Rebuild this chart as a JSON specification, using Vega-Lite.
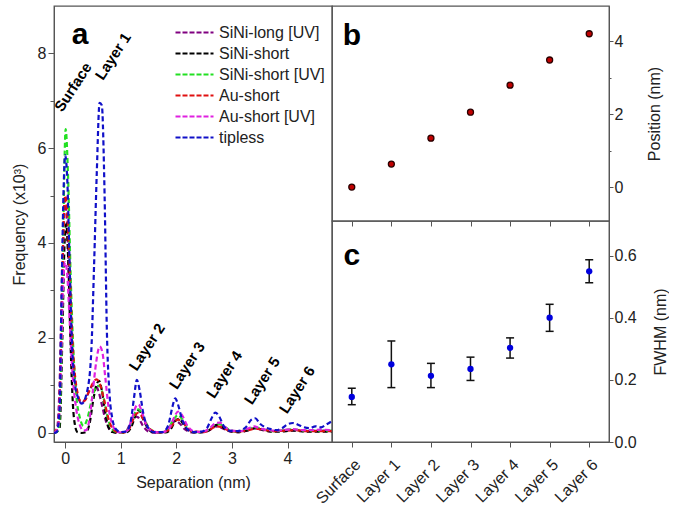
{
  "$schema": "https://vega.github.io/schema/vega-lite/v6.json",
  "padding": {"left": 10, "top": 5, "right": 0, "bottom": 5},
  "datasets": {
    "curves": [
      {"s":"SiNi-long [UV]","x":-0.2,"y":0},{"s":"SiNi-long [UV]","x":-0.15,"y":0.05},{"s":"SiNi-long [UV]","x":-0.1,"y":1.0},{"s":"SiNi-long [UV]","x":-0.05,"y":3.5},{"s":"SiNi-long [UV]","x":-0.01,"y":4.9},{"s":"SiNi-long [UV]","x":0.03,"y":4.5},{"s":"SiNi-long [UV]","x":0.07,"y":3.3},{"s":"SiNi-long [UV]","x":0.12,"y":2.0},{"s":"SiNi-long [UV]","x":0.18,"y":1.1},{"s":"SiNi-long [UV]","x":0.24,"y":0.72},{"s":"SiNi-long [UV]","x":0.3,"y":0.64},{"s":"SiNi-long [UV]","x":0.37,"y":0.72},{"s":"SiNi-long [UV]","x":0.44,"y":0.9},{"s":"SiNi-long [UV]","x":0.5,"y":1.0},{"s":"SiNi-long [UV]","x":0.55,"y":1.0},{"s":"SiNi-long [UV]","x":0.6,"y":0.88},{"s":"SiNi-long [UV]","x":0.66,"y":0.6},{"s":"SiNi-long [UV]","x":0.72,"y":0.3},{"s":"SiNi-long [UV]","x":0.8,"y":0.08},{"s":"SiNi-long [UV]","x":0.9,"y":0.01},{"s":"SiNi-long [UV]","x":1.0,"y":0},{"s":"SiNi-long [UV]","x":1.1,"y":0.04},{"s":"SiNi-long [UV]","x":1.17,"y":0.2},{"s":"SiNi-long [UV]","x":1.25,"y":0.35},{"s":"SiNi-long [UV]","x":1.31,"y":0.33},{"s":"SiNi-long [UV]","x":1.4,"y":0.15},{"s":"SiNi-long [UV]","x":1.5,"y":0.03},{"s":"SiNi-long [UV]","x":1.65,"y":0},{"s":"SiNi-long [UV]","x":1.8,"y":0.03},{"s":"SiNi-long [UV]","x":1.9,"y":0.15},{"s":"SiNi-long [UV]","x":1.98,"y":0.25},{"s":"SiNi-long [UV]","x":2.06,"y":0.2},{"s":"SiNi-long [UV]","x":2.15,"y":0.08},{"s":"SiNi-long [UV]","x":2.3,"y":0.01},{"s":"SiNi-long [UV]","x":2.5,"y":0.02},{"s":"SiNi-long [UV]","x":2.62,"y":0.07},{"s":"SiNi-long [UV]","x":2.7,"y":0.14},{"s":"SiNi-long [UV]","x":2.8,"y":0.11},{"s":"SiNi-long [UV]","x":2.95,"y":0.04},{"s":"SiNi-long [UV]","x":3.1,"y":0.02},{"s":"SiNi-long [UV]","x":3.3,"y":0.06},{"s":"SiNi-long [UV]","x":3.4,"y":0.1},{"s":"SiNi-long [UV]","x":3.55,"y":0.06},{"s":"SiNi-long [UV]","x":3.7,"y":0.04},{"s":"SiNi-long [UV]","x":3.9,"y":0.05},{"s":"SiNi-long [UV]","x":4.05,"y":0.06},{"s":"SiNi-long [UV]","x":4.2,"y":0.05},{"s":"SiNi-long [UV]","x":4.4,"y":0.04},{"s":"SiNi-long [UV]","x":4.6,"y":0.05},{"s":"SiNi-long [UV]","x":4.8,"y":0.05},
      {"s":"SiNi-short","x":-0.2,"y":0},{"s":"SiNi-short","x":-0.1,"y":0.1},{"s":"SiNi-short","x":-0.05,"y":2.0},{"s":"SiNi-short","x":-0.01,"y":4.0},{"s":"SiNi-short","x":0.02,"y":4.4},{"s":"SiNi-short","x":0.06,"y":3.5},{"s":"SiNi-short","x":0.1,"y":1.8},{"s":"SiNi-short","x":0.14,"y":0.6},{"s":"SiNi-short","x":0.18,"y":0.15},{"s":"SiNi-short","x":0.22,"y":0.02},{"s":"SiNi-short","x":0.3,"y":0},{"s":"SiNi-short","x":0.38,"y":0.02},{"s":"SiNi-short","x":0.44,"y":0.2},{"s":"SiNi-short","x":0.5,"y":0.65},{"s":"SiNi-short","x":0.56,"y":1.0},{"s":"SiNi-short","x":0.61,"y":1.1},{"s":"SiNi-short","x":0.66,"y":0.9},{"s":"SiNi-short","x":0.72,"y":0.45},{"s":"SiNi-short","x":0.78,"y":0.12},{"s":"SiNi-short","x":0.85,"y":0.02},{"s":"SiNi-short","x":1.0,"y":0},{"s":"SiNi-short","x":1.12,"y":0.02},{"s":"SiNi-short","x":1.2,"y":0.15},{"s":"SiNi-short","x":1.28,"y":0.42},{"s":"SiNi-short","x":1.33,"y":0.48},{"s":"SiNi-short","x":1.4,"y":0.3},{"s":"SiNi-short","x":1.5,"y":0.08},{"s":"SiNi-short","x":1.6,"y":0.01},{"s":"SiNi-short","x":1.8,"y":0.01},{"s":"SiNi-short","x":1.9,"y":0.08},{"s":"SiNi-short","x":1.98,"y":0.25},{"s":"SiNi-short","x":2.05,"y":0.3},{"s":"SiNi-short","x":2.12,"y":0.2},{"s":"SiNi-short","x":2.22,"y":0.05},{"s":"SiNi-short","x":2.35,"y":0.01},{"s":"SiNi-short","x":2.5,"y":0.02},{"s":"SiNi-short","x":2.62,"y":0.08},{"s":"SiNi-short","x":2.72,"y":0.17},{"s":"SiNi-short","x":2.8,"y":0.15},{"s":"SiNi-short","x":2.92,"y":0.05},{"s":"SiNi-short","x":3.1,"y":0.02},{"s":"SiNi-short","x":3.3,"y":0.06},{"s":"SiNi-short","x":3.42,"y":0.1},{"s":"SiNi-short","x":3.52,"y":0.08},{"s":"SiNi-short","x":3.7,"y":0.03},{"s":"SiNi-short","x":3.9,"y":0.03},{"s":"SiNi-short","x":4.05,"y":0.05},{"s":"SiNi-short","x":4.15,"y":0.05},{"s":"SiNi-short","x":4.3,"y":0.03},{"s":"SiNi-short","x":4.5,"y":0.03},{"s":"SiNi-short","x":4.8,"y":0.03},
      {"s":"SiNi-short [UV]","x":-0.2,"y":0},{"s":"SiNi-short [UV]","x":-0.12,"y":0.05},{"s":"SiNi-short [UV]","x":-0.07,"y":1.5},{"s":"SiNi-short [UV]","x":-0.03,"y":4.5},{"s":"SiNi-short [UV]","x":0.01,"y":6.4},{"s":"SiNi-short [UV]","x":0.05,"y":5.5},{"s":"SiNi-short [UV]","x":0.1,"y":3.3},{"s":"SiNi-short [UV]","x":0.15,"y":1.7},{"s":"SiNi-short [UV]","x":0.2,"y":0.8},{"s":"SiNi-short [UV]","x":0.27,"y":0.3},{"s":"SiNi-short [UV]","x":0.33,"y":0.15},{"s":"SiNi-short [UV]","x":0.4,"y":0.3},{"s":"SiNi-short [UV]","x":0.47,"y":0.65},{"s":"SiNi-short [UV]","x":0.55,"y":0.95},{"s":"SiNi-short [UV]","x":0.62,"y":1.0},{"s":"SiNi-short [UV]","x":0.68,"y":0.8},{"s":"SiNi-short [UV]","x":0.75,"y":0.4},{"s":"SiNi-short [UV]","x":0.82,"y":0.12},{"s":"SiNi-short [UV]","x":0.9,"y":0.03},{"s":"SiNi-short [UV]","x":1.0,"y":0},{"s":"SiNi-short [UV]","x":1.1,"y":0.03},{"s":"SiNi-short [UV]","x":1.2,"y":0.25},{"s":"SiNi-short [UV]","x":1.27,"y":0.45},{"s":"SiNi-short [UV]","x":1.32,"y":0.5},{"s":"SiNi-short [UV]","x":1.4,"y":0.35},{"s":"SiNi-short [UV]","x":1.5,"y":0.12},{"s":"SiNi-short [UV]","x":1.6,"y":0.03},{"s":"SiNi-short [UV]","x":1.75,"y":0.01},{"s":"SiNi-short [UV]","x":1.85,"y":0.08},{"s":"SiNi-short [UV]","x":1.95,"y":0.28},{"s":"SiNi-short [UV]","x":2.03,"y":0.38},{"s":"SiNi-short [UV]","x":2.1,"y":0.3},{"s":"SiNi-short [UV]","x":2.2,"y":0.12},{"s":"SiNi-short [UV]","x":2.3,"y":0.03},{"s":"SiNi-short [UV]","x":2.45,"y":0.02},{"s":"SiNi-short [UV]","x":2.6,"y":0.08},{"s":"SiNi-short [UV]","x":2.72,"y":0.2},{"s":"SiNi-short [UV]","x":2.82,"y":0.17},{"s":"SiNi-short [UV]","x":2.95,"y":0.07},{"s":"SiNi-short [UV]","x":3.1,"y":0.03},{"s":"SiNi-short [UV]","x":3.25,"y":0.06},{"s":"SiNi-short [UV]","x":3.4,"y":0.12},{"s":"SiNi-short [UV]","x":3.5,"y":0.1},{"s":"SiNi-short [UV]","x":3.65,"y":0.05},{"s":"SiNi-short [UV]","x":3.8,"y":0.04},{"s":"SiNi-short [UV]","x":4.0,"y":0.07},{"s":"SiNi-short [UV]","x":4.1,"y":0.08},{"s":"SiNi-short [UV]","x":4.25,"y":0.05},{"s":"SiNi-short [UV]","x":4.4,"y":0.05},{"s":"SiNi-short [UV]","x":4.6,"y":0.05},{"s":"SiNi-short [UV]","x":4.8,"y":0.05},
      {"s":"Au-short","x":-0.2,"y":0},{"s":"Au-short","x":-0.12,"y":0.2},{"s":"Au-short","x":-0.07,"y":2.0},{"s":"Au-short","x":-0.03,"y":4.2},{"s":"Au-short","x":0.0,"y":5.0},{"s":"Au-short","x":0.04,"y":4.6},{"s":"Au-short","x":0.08,"y":3.5},{"s":"Au-short","x":0.13,"y":2.0},{"s":"Au-short","x":0.2,"y":1.0},{"s":"Au-short","x":0.28,"y":0.68},{"s":"Au-short","x":0.35,"y":0.68},{"s":"Au-short","x":0.42,"y":0.85},{"s":"Au-short","x":0.5,"y":1.05},{"s":"Au-short","x":0.56,"y":1.13},{"s":"Au-short","x":0.62,"y":1.05},{"s":"Au-short","x":0.7,"y":0.7},{"s":"Au-short","x":0.78,"y":0.3},{"s":"Au-short","x":0.86,"y":0.08},{"s":"Au-short","x":0.95,"y":0.02},{"s":"Au-short","x":1.05,"y":0.01},{"s":"Au-short","x":1.15,"y":0.08},{"s":"Au-short","x":1.22,"y":0.28},{"s":"Au-short","x":1.3,"y":0.42},{"s":"Au-short","x":1.36,"y":0.38},{"s":"Au-short","x":1.45,"y":0.2},{"s":"Au-short","x":1.55,"y":0.06},{"s":"Au-short","x":1.7,"y":0.01},{"s":"Au-short","x":1.85,"y":0.05},{"s":"Au-short","x":1.95,"y":0.2},{"s":"Au-short","x":2.03,"y":0.28},{"s":"Au-short","x":2.1,"y":0.25},{"s":"Au-short","x":2.2,"y":0.1},{"s":"Au-short","x":2.3,"y":0.03},{"s":"Au-short","x":2.5,"y":0.02},{"s":"Au-short","x":2.62,"y":0.08},{"s":"Au-short","x":2.72,"y":0.14},{"s":"Au-short","x":2.8,"y":0.13},{"s":"Au-short","x":2.95,"y":0.05},{"s":"Au-short","x":3.1,"y":0.03},{"s":"Au-short","x":3.3,"y":0.06},{"s":"Au-short","x":3.42,"y":0.09},{"s":"Au-short","x":3.55,"y":0.07},{"s":"Au-short","x":3.75,"y":0.04},{"s":"Au-short","x":4.0,"y":0.05},{"s":"Au-short","x":4.15,"y":0.06},{"s":"Au-short","x":4.3,"y":0.04},{"s":"Au-short","x":4.5,"y":0.04},{"s":"Au-short","x":4.8,"y":0.04},
      {"s":"Au-short [UV]","x":-0.2,"y":0},{"s":"Au-short [UV]","x":-0.13,"y":0.1},{"s":"Au-short [UV]","x":-0.08,"y":1.2},{"s":"Au-short [UV]","x":-0.04,"y":3.0},{"s":"Au-short [UV]","x":0.0,"y":3.6},{"s":"Au-short [UV]","x":0.04,"y":3.3},{"s":"Au-short [UV]","x":0.08,"y":2.4},{"s":"Au-short [UV]","x":0.13,"y":1.3},{"s":"Au-short [UV]","x":0.2,"y":0.5},{"s":"Au-short [UV]","x":0.27,"y":0.15},{"s":"Au-short [UV]","x":0.33,"y":0.05},{"s":"Au-short [UV]","x":0.38,"y":0.06},{"s":"Au-short [UV]","x":0.44,"y":0.3},{"s":"Au-short [UV]","x":0.5,"y":0.9},{"s":"Au-short [UV]","x":0.56,"y":1.5},{"s":"Au-short [UV]","x":0.62,"y":1.82},{"s":"Au-short [UV]","x":0.67,"y":1.7},{"s":"Au-short [UV]","x":0.72,"y":1.2},{"s":"Au-short [UV]","x":0.78,"y":0.55},{"s":"Au-short [UV]","x":0.85,"y":0.18},{"s":"Au-short [UV]","x":0.92,"y":0.04},{"s":"Au-short [UV]","x":1.0,"y":0.01},{"s":"Au-short [UV]","x":1.12,"y":0.05},{"s":"Au-short [UV]","x":1.2,"y":0.3},{"s":"Au-short [UV]","x":1.27,"y":0.55},{"s":"Au-short [UV]","x":1.32,"y":0.6},{"s":"Au-short [UV]","x":1.38,"y":0.45},{"s":"Au-short [UV]","x":1.45,"y":0.2},{"s":"Au-short [UV]","x":1.55,"y":0.05},{"s":"Au-short [UV]","x":1.7,"y":0.01},{"s":"Au-short [UV]","x":1.85,"y":0.06},{"s":"Au-short [UV]","x":1.95,"y":0.3},{"s":"Au-short [UV]","x":2.03,"y":0.45},{"s":"Au-short [UV]","x":2.1,"y":0.38},{"s":"Au-short [UV]","x":2.2,"y":0.15},{"s":"Au-short [UV]","x":2.3,"y":0.04},{"s":"Au-short [UV]","x":2.45,"y":0.02},{"s":"Au-short [UV]","x":2.6,"y":0.1},{"s":"Au-short [UV]","x":2.7,"y":0.2},{"s":"Au-short [UV]","x":2.78,"y":0.22},{"s":"Au-short [UV]","x":2.88,"y":0.12},{"s":"Au-short [UV]","x":3.0,"y":0.05},{"s":"Au-short [UV]","x":3.15,"y":0.04},{"s":"Au-short [UV]","x":3.3,"y":0.1},{"s":"Au-short [UV]","x":3.4,"y":0.14},{"s":"Au-short [UV]","x":3.5,"y":0.1},{"s":"Au-short [UV]","x":3.65,"y":0.06},{"s":"Au-short [UV]","x":3.8,"y":0.05},{"s":"Au-short [UV]","x":4.0,"y":0.07},{"s":"Au-short [UV]","x":4.1,"y":0.08},{"s":"Au-short [UV]","x":4.25,"y":0.06},{"s":"Au-short [UV]","x":4.4,"y":0.06},{"s":"Au-short [UV]","x":4.6,"y":0.07},{"s":"Au-short [UV]","x":4.8,"y":0.06},
      {"s":"tipless","x":-0.2,"y":0},{"s":"tipless","x":-0.15,"y":0.02},{"s":"tipless","x":-0.1,"y":0.5},{"s":"tipless","x":-0.07,"y":2.5},{"s":"tipless","x":-0.03,"y":5.0},{"s":"tipless","x":0.0,"y":5.85},{"s":"tipless","x":0.04,"y":5.3},{"s":"tipless","x":0.08,"y":3.6},{"s":"tipless","x":0.12,"y":2.0},{"s":"tipless","x":0.17,"y":1.1},{"s":"tipless","x":0.23,"y":0.75},{"s":"tipless","x":0.3,"y":0.62},{"s":"tipless","x":0.4,"y":0.9},{"s":"tipless","x":0.47,"y":1.7},{"s":"tipless","x":0.52,"y":3.5},{"s":"tipless","x":0.57,"y":5.5},{"s":"tipless","x":0.62,"y":6.95},{"s":"tipless","x":0.66,"y":6.9},{"s":"tipless","x":0.71,"y":5.0},{"s":"tipless","x":0.75,"y":2.2},{"s":"tipless","x":0.8,"y":0.8},{"s":"tipless","x":0.85,"y":0.3},{"s":"tipless","x":0.9,"y":0.1},{"s":"tipless","x":1.0,"y":0.02},{"s":"tipless","x":1.1,"y":0.03},{"s":"tipless","x":1.18,"y":0.25},{"s":"tipless","x":1.24,"y":0.75},{"s":"tipless","x":1.29,"y":1.12},{"s":"tipless","x":1.34,"y":0.9},{"s":"tipless","x":1.4,"y":0.45},{"s":"tipless","x":1.5,"y":0.1},{"s":"tipless","x":1.6,"y":0.02},{"s":"tipless","x":1.75,"y":0.02},{"s":"tipless","x":1.85,"y":0.15},{"s":"tipless","x":1.93,"y":0.55},{"s":"tipless","x":1.98,"y":0.73},{"s":"tipless","x":2.03,"y":0.6},{"s":"tipless","x":2.1,"y":0.3},{"s":"tipless","x":2.2,"y":0.08},{"s":"tipless","x":2.3,"y":0.02},{"s":"tipless","x":2.45,"y":0.03},{"s":"tipless","x":2.55,"y":0.1},{"s":"tipless","x":2.63,"y":0.3},{"s":"tipless","x":2.7,"y":0.43},{"s":"tipless","x":2.77,"y":0.35},{"s":"tipless","x":2.85,"y":0.15},{"s":"tipless","x":2.95,"y":0.05},{"s":"tipless","x":3.1,"y":0.04},{"s":"tipless","x":3.25,"y":0.12},{"s":"tipless","x":3.35,"y":0.28},{"s":"tipless","x":3.42,"y":0.31},{"s":"tipless","x":3.5,"y":0.2},{"s":"tipless","x":3.6,"y":0.12},{"s":"tipless","x":3.7,"y":0.08},{"s":"tipless","x":3.8,"y":0.06},{"s":"tipless","x":3.9,"y":0.1},{"s":"tipless","x":4.0,"y":0.18},{"s":"tipless","x":4.1,"y":0.21},{"s":"tipless","x":4.2,"y":0.17},{"s":"tipless","x":4.3,"y":0.12},{"s":"tipless","x":4.4,"y":0.1},{"s":"tipless","x":4.5,"y":0.14},{"s":"tipless","x":4.6,"y":0.12},{"s":"tipless","x":4.7,"y":0.18},{"s":"tipless","x":4.8,"y":0.25}
    ],
    "peaks": [
      {"label":"Surface","x":-0.05,"y":6.74},
      {"label":"Layer 1","x":0.68,"y":7.41},
      {"label":"Layer 2","x":1.29,"y":1.29},
      {"label":"Layer 3","x":2.01,"y":0.9},
      {"label":"Layer 4","x":2.68,"y":0.71},
      {"label":"Layer 5","x":3.36,"y":0.58},
      {"label":"Layer 6","x":3.99,"y":0.39}
    ],
    "stats": [
      {"layer":"Surface","pos":0,"pLo":-0.05,"pHi":0.05,"fw":0.145,"lo":0.12,"hi":0.173},
      {"layer":"Layer 1","pos":0.63,"pLo":0.58,"pHi":0.68,"fw":0.25,"lo":0.175,"hi":0.325},
      {"layer":"Layer 2","pos":1.34,"pLo":1.29,"pHi":1.39,"fw":0.213,"lo":0.175,"hi":0.253},
      {"layer":"Layer 3","pos":2.05,"pLo":2.0,"pHi":2.1,"fw":0.235,"lo":0.198,"hi":0.273},
      {"layer":"Layer 4","pos":2.79,"pLo":2.74,"pHi":2.84,"fw":0.303,"lo":0.27,"hi":0.335},
      {"layer":"Layer 5","pos":3.48,"pLo":3.43,"pHi":3.53,"fw":0.4,"lo":0.356,"hi":0.443},
      {"layer":"Layer 6","pos":4.2,"pLo":4.15,"pHi":4.25,"fw":0.549,"lo":0.512,"hi":0.586}
    ]
  },
  "spacing": 0,
  "bounds": "flush",
  "resolve": {"legend": {"color": "independent"}},
  "hconcat": [
    {
      "width": 278,
      "height": 436,
      "layer": [
        {
          "data": {"name": "curves"},
          "mark": {"type": "line", "strokeDash": [5, 3], "strokeWidth": 2.2, "clip": true, "interpolate": "monotone"},
          "encoding": {
            "x": {"field": "x", "type": "quantitative",
              "scale": {"domain": [-0.2, 4.8], "nice": false, "zero": false},
              "axis": {"title": "Separation (nm)", "values": [0,0.5,1,1.5,2,2.5,3,3.5,4,4.5],
                "labelExpr": "datum.value % 1 === 0 ? datum.label : ''",
                "tickSize": {"condition": {"test": "datum.value % 1 === 0", "value": 6}, "value": 4},
                "titlePadding": 8}},
            "y": {"field": "y", "type": "quantitative",
              "scale": {"domain": [-0.19, 8.99], "nice": false, "zero": false},
              "axis": {"title": "Frequency (x10³)", "values": [0,1,2,3,4,5,6,7,8],
                "labelExpr": "datum.value % 2 === 0 ? datum.label : ''",
                "tickSize": {"condition": {"test": "datum.value % 2 === 0", "value": 6}, "value": 4},
                "titlePadding": 10}},
            "color": {"field": "s", "type": "nominal",
              "scale": {"domain": ["SiNi-long [UV]","SiNi-short","SiNi-short [UV]","Au-short","Au-short [UV]","tipless"],
                "range": ["#800080","#000000","#22e022","#e01010","#e020e0","#1010c8"]},
              "legend": {"title": null, "orient": "none", "legendX": 130, "legendY": 16,
                "symbolType": "M-2,0H2", "symbolSize": 361, "symbolStrokeWidth": 2, "symbolDash": [5, 2],
                "labelFont": "Liberation Sans", "labelFontSize": 16, "labelColor": "#222", "labelOffset": 14, "rowPadding": 2, "padding": 0}}
          }
        },
        {
          "data": {"name": "peaks"},
          "mark": {"type": "text", "angle": -57, "align": "left", "baseline": "alphabetic", "fontWeight": "bold", "fontSize": 15, "font": "Liberation Sans", "color": "#000"},
          "encoding": {
            "x": {"field": "x", "type": "quantitative"},
            "y": {"field": "y", "type": "quantitative"},
            "text": {"field": "label"}
          }
        },
        {
          "data": {"values": [{"t": "a", "x": 0.27, "y": 8.38}]},
          "mark": {"type": "text", "align": "center", "baseline": "middle", "fontWeight": "bold", "fontSize": 30, "font": "Liberation Sans", "color": "#000"},
          "encoding": {
            "x": {"field": "x", "type": "quantitative"},
            "y": {"field": "y", "type": "quantitative"},
            "text": {"field": "t"}
          }
        }
      ]
    },
    {
      "spacing": 0,
      "bounds": "flush",
      "vconcat": [
        {
          "width": 277,
          "height": 215,
          "layer": [
            {
              "data": {"name": "stats"},
              "mark": {"type": "rule", "color": "#111", "strokeWidth": 1.5},
              "encoding": {
                "x": {"field": "layer", "type": "nominal", "sort": null,
                  "scale": {"type": "point", "padding": 0.5, "domain": ["Surface","Layer 1","Layer 2","Layer 3","Layer 4","Layer 5","Layer 6"]}, "axis": null},
                "y": {"field": "pLo", "type": "quantitative",
                  "scale": {"domain": [-0.93, 4.96], "nice": false, "zero": false},
                  "axis": {"orient": "right", "title": "Position (nm)", "titleAngle": 270, "titleBaseline": "top",
                    "values": [0, 1, 2, 3, 4],
                    "labelExpr": "datum.value % 2 === 0 ? datum.label : ''",
                    "tickSize": {"condition": {"test": "datum.value % 2 === 0", "value": 4}, "value": 2},
                    "labelPadding": 1, "titlePadding": 24}},
                "y2": {"field": "pHi"}
              }
            },
            {
              "data": {"name": "stats"},
              "mark": {"type": "point", "shape": "circle", "filled": true, "size": 36, "fill": "#c00000", "stroke": "#2a0000", "strokeWidth": 1.3, "opacity": 1},
              "encoding": {
                "x": {"field": "layer", "type": "nominal", "sort": null},
                "y": {"field": "pos", "type": "quantitative", "title": "Position (nm)"}
              }
            },
            {
              "data": {"values": [{"t": "b", "layer": "Surface", "pos": 4.14}]},
              "mark": {"type": "text", "align": "center", "baseline": "middle", "fontWeight": "bold", "fontSize": 30, "font": "Liberation Sans", "color": "#000"},
              "encoding": {
                "x": {"field": "layer", "type": "nominal", "sort": null},
                "y": {"field": "pos", "type": "quantitative", "title": "Position (nm)"},
                "text": {"field": "t"}
              }
            }
          ]
        },
        {
          "width": 277,
          "height": 221,
          "resolve": {"axis": {"x": "independent"}},
          "layer": [
            {
              "data": {"name": "stats"},
              "mark": {"type": "rule", "color": "#111", "strokeWidth": 1.5},
              "encoding": {
                "x": {"field": "layer", "type": "nominal", "sort": null,
                  "scale": {"type": "point", "padding": 0.5, "domain": ["Surface","Layer 1","Layer 2","Layer 3","Layer 4","Layer 5","Layer 6"]},
                  "axis": {"title": null, "labelAngle": -45, "orient": "bottom", "labelPadding": 9}},
                "y": {"field": "lo", "type": "quantitative",
                  "scale": {"domain": [0, 0.711], "nice": false, "zero": false},
                  "axis": {"orient": "right", "title": "FWHM (nm)", "titleAngle": 270, "titleBaseline": "top",
                    "values": [0, 0.2, 0.4, 0.6], "format": ".1f", "tickSize": 4, "labelPadding": 1, "titlePadding": 16}},
                "y2": {"field": "hi"}
              }
            },
            {
              "data": {"name": "stats"},
              "mark": {"type": "tick", "orient": "horizontal", "size": 8, "thickness": 1.5, "color": "#111", "opacity": 1},
              "encoding": {
                "x": {"field": "layer", "type": "nominal", "sort": null, "axis": null},
                "y": {"field": "lo", "type": "quantitative", "title": "FWHM (nm)"}
              }
            },
            {
              "data": {"name": "stats"},
              "mark": {"type": "tick", "orient": "horizontal", "size": 8, "thickness": 1.5, "color": "#111", "opacity": 1},
              "encoding": {
                "x": {"field": "layer", "type": "nominal", "sort": null, "axis": null},
                "y": {"field": "hi", "type": "quantitative", "title": "FWHM (nm)"}
              }
            },
            {
              "data": {"name": "stats"},
              "mark": {"type": "point", "shape": "circle", "filled": true, "size": 40, "color": "#0000dd", "opacity": 1},
              "encoding": {
                "x": {"field": "layer", "type": "nominal", "sort": null,
                  "axis": {"orient": "top", "labels": false, "title": null, "tickSize": -5, "domain": false}},
                "y": {"field": "fw", "type": "quantitative", "title": "FWHM (nm)"}
              }
            },
            {
              "data": {"values": [{"t": "c", "layer": "Surface", "fw": 0.597}]},
              "mark": {"type": "text", "align": "center", "baseline": "middle", "fontWeight": "bold", "fontSize": 30, "font": "Liberation Sans", "color": "#000"},
              "encoding": {
                "x": {"field": "layer", "type": "nominal", "sort": null, "axis": null},
                "y": {"field": "fw", "type": "quantitative", "title": "FWHM (nm)"},
                "text": {"field": "t"}
              }
            }
          ]
        }
      ]
    }
  ],
  "config": {
    "font": "Liberation Sans",
    "view": {"stroke": "#555", "strokeWidth": 1.3},
    "axis": {"labelFont": "Liberation Sans", "labelFontSize": 16, "labelColor": "#222",
      "titleFont": "Liberation Sans", "titleFontSize": 16, "titleFontWeight": "normal", "titleColor": "#222",
      "domainColor": "#555", "tickColor": "#555", "grid": false, "labelPadding": 2, "tickSize": 5}
  }
}
